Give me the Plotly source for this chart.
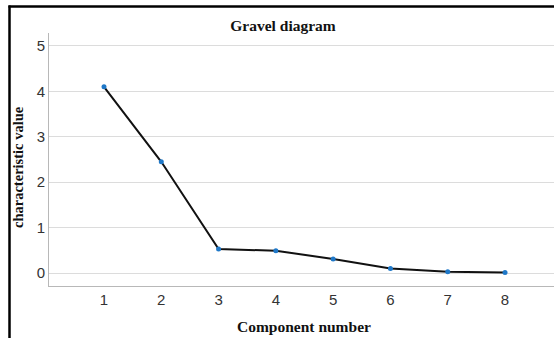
import plotly.graph_objects as go

components = [1, 2, 3, 4, 5, 6, 7, 8]
eigenvalues = [4.10, 2.45, 0.53, 0.49, 0.31, 0.10, 0.03, 0.01]
y_ticks = [0, 1, 2, 3, 4, 5]

W, H = 554, 338
L, R, T, B = 49, 0, 33, 52
pw, ph = W - L - R, H - T - B

fig = go.Figure()
fig.add_trace(go.Scatter(
    x=components, y=eigenvalues, mode="lines+markers",
    line=dict(color="#111111", width=2),
    marker=dict(color="#1f78c8", size=5, line=dict(width=0)),
    showlegend=False,
))

def px_x(v):
    return (v - L) / pw

def px_y(v):
    return (H - B - v) / ph

fig.update_layout(
    width=W, height=H,
    margin=dict(l=L, r=R, t=T, b=B, autoexpand=False),
    paper_bgcolor="white", plot_bgcolor="white",
    title=dict(text="<b>Gravel diagram</b>", x=px_x(283), xref="paper", xanchor="center",
               y=1 - 26 / H, yanchor="middle",
               font=dict(family="Liberation Serif", size=15.5, color="#111111")),
    xaxis=dict(range=[0.04, 8.855], tickvals=components, ticktext=[str(c) for c in components],
               showgrid=False, zeroline=False, showline=True, linecolor="#b8b8b8", linewidth=1,
               ticks="", tickfont=dict(family="Liberation Sans", size=15, color="#333333")),
    yaxis=dict(range=[-0.286, 5.286], tickvals=y_ticks, ticktext=[str(t) for t in y_ticks],
               showgrid=True, gridcolor="#dcdcdc", gridwidth=1, zeroline=False,
               showline=True, linecolor="#b8b8b8", linewidth=1, ticks="",
               tickfont=dict(family="Liberation Sans", size=15, color="#333333")),
    annotations=[
        dict(text="<b>characteristic value</b>", xref="paper", yref="paper",
             x=px_x(18), y=px_y(167), textangle=-90, showarrow=False,
             xanchor="center", yanchor="middle",
             font=dict(family="Liberation Serif", size=14.5, color="#111111")),
        dict(text="<b>Component number</b>", xref="paper", yref="paper",
             x=px_x(304), y=px_y(326), showarrow=False,
             xanchor="center", yanchor="middle",
             font=dict(family="Liberation Serif", size=15.5, color="#111111")),
    ],
    shapes=[
        dict(type="line", xref="paper", yref="paper", x0=px_x(8.5), x1=px_x(554), y0=px_y(6.5), y1=px_y(6.5),
             layer="above", line=dict(color="#000000", width=2.5)),
        dict(type="line", xref="paper", yref="paper", x0=px_x(9.5), x1=px_x(9.5), y0=px_y(5.5), y1=px_y(338),
             layer="above", line=dict(color="#000000", width=2.5)),
    ],
)

fig.write_html("out.html", config={"displayModeBar": False, "staticPlot": True},
               post_script="document.body.style.margin='0';document.body.style.padding='0';document.body.style.overflow='hidden';")
